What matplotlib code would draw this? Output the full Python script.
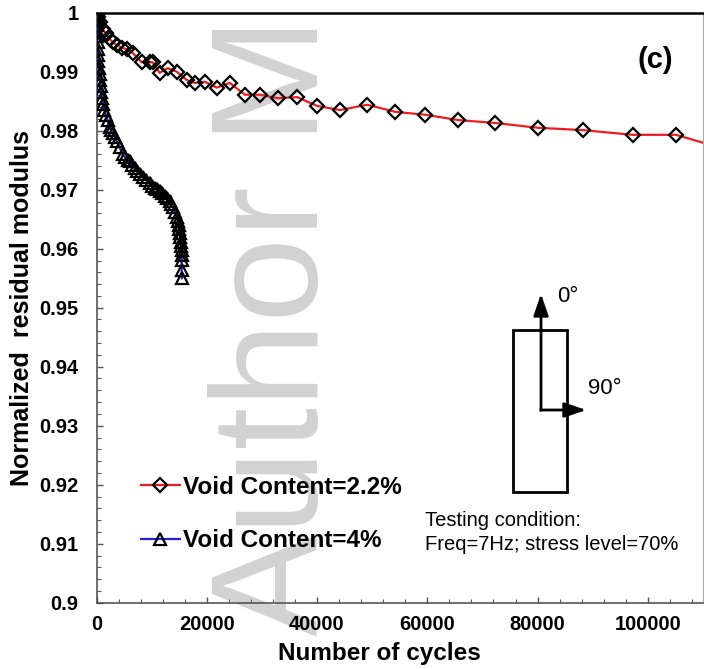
import numpy as np
import matplotlib
matplotlib.use("Agg")
import matplotlib.pyplot as plt
from matplotlib.ticker import MultipleLocator, FuncFormatter
from matplotlib.patches import Rectangle

plt.rcParams['font.family'] = ['Liberation Sans', 'DejaVu Sans']

# void content 2.2 %
red_x = [0, 100, 200, 300, 545, 1090, 1640, 2360, 2910, 3640,
         4550, 5450, 6545, 8180, 9640, 10180, 11450, 12900, 14550, 16360,
         17820, 19640, 21820, 24180, 26910, 29640, 32910, 36360, 40000, 44180,
         49090, 54180, 59640, 65640, 72360, 80000, 88180, 97270, 105090, 115000]
red_y = [1.0, 0.9996, 0.9992, 0.9988, 0.9984, 0.9973, 0.9965, 0.9956, 0.9950, 0.9945,
         0.9941, 0.9938, 0.9932, 0.9916, 0.9916, 0.9916, 0.9898, 0.9906, 0.9900, 0.9886,
         0.9881, 0.9883, 0.9873, 0.9881, 0.9861, 0.9861, 0.9855, 0.9857, 0.9842, 0.9835,
         0.9844, 0.9832, 0.9827, 0.9818, 0.9813, 0.9805, 0.9801, 0.9793, 0.9793, 0.9766]

# void content 4 %
blue_x = [0, 30, 60, 100, 150, 200, 250, 300, 360, 450,
          545, 640, 730, 850, 1000, 1200, 1450, 1700, 2000, 2360,
          2650, 2910, 3300, 3640, 4180, 4730, 5200, 5640, 6000, 6450,
          6910, 7400, 7820, 8360, 9000, 9640, 10100, 10550, 11000, 11450,
          11900, 12360, 12800, 13270, 13600, 13820, 14200, 14550, 14750, 14910,
          15000, 15090, 15200, 15270, 15350, 15450, 15450, 15450, 15450, 15500]
blue_y = [1.0, 0.9990, 0.9980, 0.9970, 0.9960, 0.9950, 0.9938, 0.9928, 0.9918, 0.9906,
          0.9896, 0.9886, 0.9875, 0.9865, 0.9855, 0.9845, 0.9835, 0.9826, 0.9818, 0.9807,
          0.9801, 0.9796, 0.9790, 0.9783, 0.9772, 0.9760, 0.9755, 0.9750, 0.9748, 0.9742,
          0.9736, 0.9731, 0.9727, 0.9721, 0.9717, 0.9712, 0.9707, 0.9703, 0.9701, 0.9698,
          0.9694, 0.9690, 0.9686, 0.9681, 0.9676, 0.9671, 0.9662, 0.9654, 0.9647, 0.9640,
          0.9634, 0.9627, 0.9619, 0.9611, 0.9604, 0.9597, 0.9589, 0.9581, 0.9564, 0.9550]

labels = ["Void Content=2.2%", "Void Content=4%"]
W, H = 704, 669


def fpos(px, py):
    # image pixel -> figure fraction
    return px / W, 1 - py / H


fig = plt.figure(figsize=(W / 100, H / 100), dpi=100)

# watermark behind everything
fig.text(318 / W, 1 - 636 / H, "Author M", rotation=90, rotation_mode='anchor',
         ha='left', va='baseline', fontsize=110, color='#d2d2d2', zorder=-1)

ax = fig.add_axes([96.5 / W, 1 - 602.7 / H, (703 - 96.5) / W, (602.7 - 12.7) / H])
ax.set_facecolor('none')

ax.plot(red_x, red_y, color='#ee1c1c', lw=1.6, marker='D', ms=7, mfc='none',
        mec='black', mew=1.6, label=labels[0], zorder=3)
ax.plot(blue_x, blue_y, color='#2020e0', lw=1.6, marker='^', ms=9, mfc='none',
        mec='black', mew=1.6, label=labels[1], zorder=4)

ax.set_xlim(0, 110000)
ax.set_ylim(0.9, 1.0)
ax.xaxis.set_major_locator(MultipleLocator(20000))
ax.xaxis.set_minor_locator(MultipleLocator(4000))
ax.yaxis.set_major_locator(MultipleLocator(0.01))
ax.yaxis.set_minor_locator(MultipleLocator(0.002))
ax.yaxis.set_major_formatter(FuncFormatter(lambda v, p: "%g" % round(v, 3)))
ax.xaxis.set_major_formatter(FuncFormatter(lambda v, p: "%d" % v))

ax.tick_params(which='both', direction='in', top=False, right=False, colors='#555555',
               labelcolor='black')
ax.tick_params(which='major', length=4, width=1)
ax.tick_params(which='minor', length=3, width=0.8)
ax.tick_params(axis='y', which='major', pad=13)
ax.tick_params(axis='x', which='major', pad=9)
for lab in ax.get_xticklabels() + ax.get_yticklabels():
    lab.set_fontweight('bold')
    lab.set_fontsize(14.5)

for s in ['left', 'bottom']:
    ax.spines[s].set_color('#555555')
    ax.spines[s].set_linewidth(1.2)
ax.spines['top'].set_color('black')
ax.spines['top'].set_linewidth(1.8)
ax.spines['right'].set_color('#aaaaaa')
ax.spines['right'].set_linewidth(0.8)

ax.set_xlabel("Number of cycles", fontsize=17.5, fontweight='bold')
ax.set_ylabel("Normalized  residual modulus", fontsize=18, fontweight='bold')
ax.xaxis.set_label_coords(0.467, -0.066)
ax.yaxis.set_label_coords(-0.103, 0.5)

leg = ax.legend(loc='upper left', bbox_to_anchor=fpos(131, 466),
                bbox_transform=fig.transFigure, frameon=False, borderaxespad=0,
                prop={'size': 17.5, 'weight': 'bold'}, handlelength=1.6,
                handletextpad=0.12, labelspacing=1.25, markerscale=1.0)

ax.text(655 / W, 1 - 60 / H, "(c)", transform=fig.transFigure, fontsize=21,
        fontweight='bold', ha='center', va='center')

# specimen sketch
x0, y0 = fpos(513, 492)
x1, y1 = fpos(567, 330)
fig.add_artist(Rectangle((x0, y0), x1 - x0, y1 - y0, transform=fig.transFigure,
                         fill=False, ec='black', lw=2))
arrow = dict(arrowstyle='-|>,head_length=1.3,head_width=0.45', color='black', lw=2,
             shrinkA=0, shrinkB=0, mutation_scale=10, capstyle='projecting')
ax.annotate("", xy=fpos(541, 294), xytext=fpos(541, 410), xycoords='figure fraction',
            textcoords='figure fraction', arrowprops=arrow)
ax.annotate("", xy=fpos(586, 410), xytext=fpos(541, 410), xycoords='figure fraction',
            textcoords='figure fraction', arrowprops=arrow)
fig.text(557 / W, 1 - 296 / H, "0°", fontsize=16, ha='left', va='center')
fig.text(588 / W, 1 - 388 / H, "90°", fontsize=16, ha='left', va='center')

fig.text(425 / W, 1 - 521 / H, "Testing condition:", fontsize=14.5, ha='left', va='center')
fig.text(425 / W, 1 - 545 / H, "Freq=7Hz; stress level=70%", fontsize=14.5,
         ha='left', va='center')

fig.savefig("out.png", dpi=100)
